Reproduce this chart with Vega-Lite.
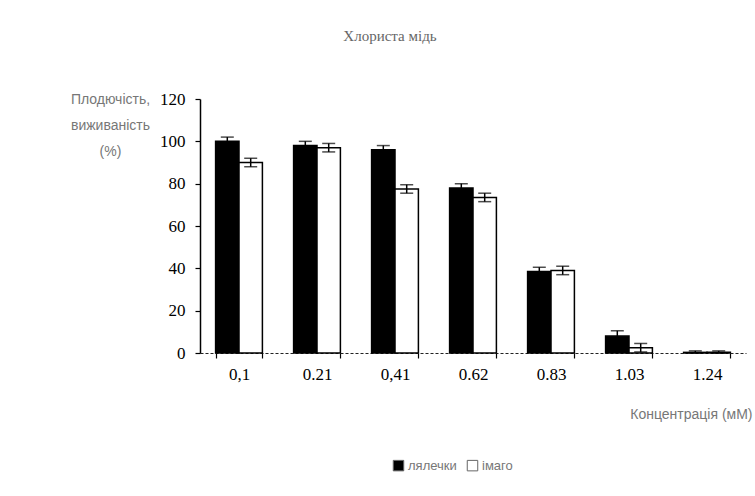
{
  "$schema": "https://vega.github.io/schema/vega-lite/v6.json",
  "autosize": {"type": "none"},
  "width": 546,
  "height": 254,
  "padding": {"left": 200, "top": 99, "right": 9, "bottom": 143},
  "background": "white",
  "title": {
    "text": "Хлориста мідь",
    "font": "Liberation Serif",
    "fontSize": 15,
    "fontWeight": "normal",
    "color": "#666666",
    "anchor": "middle",
    "dx": -83,
    "offset": 46
  },
  "data": {
    "values": [
      {"c": "0,1", "s": "лялечки", "v": 100, "lo": 98, "hi": 102},
      {"c": "0,1", "s": "імаго", "v": 90, "lo": 88, "hi": 92},
      {"c": "0.21", "s": "лялечки", "v": 98, "lo": 96, "hi": 100},
      {"c": "0.21", "s": "імаго", "v": 97, "lo": 95, "hi": 99},
      {"c": "0,41", "s": "лялечки", "v": 96, "lo": 94, "hi": 98},
      {"c": "0,41", "s": "імаго", "v": 77.5, "lo": 75.5, "hi": 79.5},
      {"c": "0.62", "s": "лялечки", "v": 78, "lo": 76, "hi": 80},
      {"c": "0.62", "s": "імаго", "v": 73.5, "lo": 71.5, "hi": 75.5},
      {"c": "0.83", "s": "лялечки", "v": 38.5, "lo": 36.5, "hi": 40.5},
      {"c": "0.83", "s": "імаго", "v": 39, "lo": 37, "hi": 41},
      {"c": "1.03", "s": "лялечки", "v": 8, "lo": 5.5, "hi": 10.5},
      {"c": "1.03", "s": "імаго", "v": 2.5, "lo": 0.5, "hi": 4.5},
      {"c": "1.24", "s": "лялечки", "v": 0.3, "lo": 0, "hi": 1},
      {"c": "1.24", "s": "імаго", "v": 0.3, "lo": 0, "hi": 1}
    ]
  },
  "encoding": {
    "x": {
      "field": "c",
      "type": "nominal",
      "sort": null,
      "scale": {"paddingInner": 0.4, "paddingOuter": 0.2},
      "axis": {
        "title": "Концентрація (мМ)",
        "titleFont": "Liberation Sans",
        "titleFontSize": 14,
        "titleFontWeight": "normal",
        "titleColor": "#777777",
        "titleAnchor": "end",
        "titleAlign": "right",
        "titleX": 552,
        "titleY": 54,
        "labelAngle": 0,
        "labelFont": "Liberation Serif",
        "labelFontSize": 17,
        "labelColor": "black",
        "labelPadding": 8,
        "tickBand": "extent",
        "tickColor": "black",
        "tickSize": 5,
        "tickWidth": 1.2,
        "domainColor": "#222222",
        "domainDash": [3, 2],
        "domainWidth": 1.2
      }
    },
    "xOffset": {"field": "s", "type": "nominal", "sort": ["лялечки", "імаго"], "scale": {"paddingInner": 0}}
  },
  "layer": [
    {
      "mark": {"type": "bar", "stroke": "black", "strokeWidth": 1.5},
      "encoding": {
        "y": {
          "field": "v",
          "type": "quantitative",
          "stack": null,
          "scale": {"domain": [0, 120], "nice": false},
          "axis": {
            "values": [0, 20, 40, 60, 80, 100, 120],
            "grid": false,
            "title": ["Плодючість,", "виживаність", "(%)"],
            "titleAngle": 0,
            "titleX": -90,
            "titleY": -7,
            "titleAlign": "center",
            "titleBaseline": "top",
            "titleFont": "Liberation Sans",
            "titleFontSize": 14,
            "titleFontWeight": "normal",
            "titleColor": "#777777",
            "titleLineHeight": 26,
            "labelFont": "Liberation Serif",
            "labelFontSize": 17,
            "labelColor": "black",
            "labelPadding": 10,
            "tickColor": "black",
            "tickSize": 5,
            "tickWidth": 1.2,
            "domainColor": "black",
            "domainWidth": 1.5
          }
        },
        "fill": {
          "field": "s",
          "type": "nominal",
          "sort": ["лялечки", "імаго"],
          "scale": {"domain": ["лялечки", "імаго"], "range": ["black", "white"]},
          "legend": {
            "title": null,
            "orient": "none",
            "direction": "horizontal",
            "legendX": 192,
            "legendY": 360,
            "symbolType": "square",
            "symbolSize": 110,
            "symbolStrokeColor": "#666666",
            "symbolStrokeWidth": 1,
            "labelFont": "Liberation Sans",
            "labelFontSize": 13,
            "labelColor": "#777777",
            "columnPadding": 8,
            "labelOffset": 3
          }
        }
      }
    },
    {
      "mark": {"type": "rule", "color": "black", "strokeWidth": 1.5},
      "encoding": {
        "y": {"field": "lo", "type": "quantitative"},
        "y2": {"field": "hi"}
      }
    },
    {
      "mark": {"type": "tick", "color": "black", "thickness": 1.5, "size": 13},
      "encoding": {"y": {"field": "lo", "type": "quantitative"}}
    },
    {
      "mark": {"type": "tick", "color": "black", "thickness": 1.5, "size": 13},
      "encoding": {"y": {"field": "hi", "type": "quantitative"}}
    }
  ],
  "config": {"view": {"stroke": null}}
}
